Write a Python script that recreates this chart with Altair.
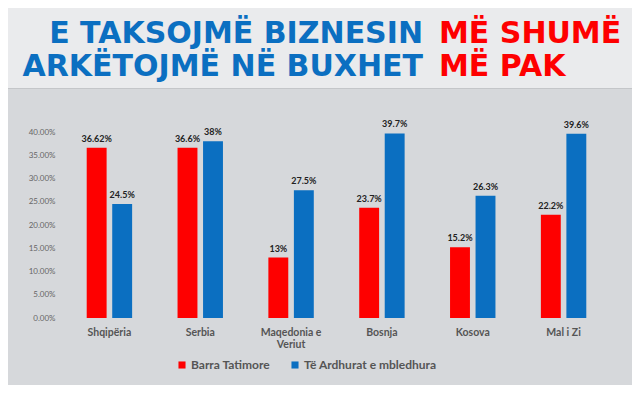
import altair as alt
import pandas as pd

countries = ["Shqipëria", "Serbia", "Maqedonia e Veriut", "Bosnja", "Kosova", "Mal i Zi"]
series = ["Barra Tatimore", "Të Ardhurat e mbledhura"]
barra = [36.62, 36.6, 13.0, 23.7, 15.2, 22.2]
ardhurat = [24.5, 38.0, 27.5, 39.7, 26.3, 39.6]
barra_labels = ["36.62%", "36.6%", "13%", "23.7%", "15.2%", "22.2%"]
ardhurat_labels = ["24.5%", "38%", "27.5%", "39.7%", "26.3%", "39.6%"]
y_ticks = [0, 0.05, 0.10, 0.15, 0.20, 0.25, 0.30, 0.35, 0.40]
title_blue = ["E TAKSOJMË BIZNESIN", "ARKËTOJMË NË BUXHET"]
title_red = ["MË SHUMË", "MË PAK"]

RED = "#fe0000"
BLUE = "#0b6fc1"

rows = []
for c, v, l in zip(countries, barra, barra_labels):
    rows.append({"country": c, "series": series[0], "value": v / 100, "label": l})
for c, v, l in zip(countries, ardhurat, ardhurat_labels):
    rows.append({"country": c, "series": series[1], "value": v / 100, "label": l})
df = pd.DataFrame(rows)

x_axis = alt.Axis(labelAngle=0, ticks=False, domain=False, labelPadding=9,
                  labelFont="Lato", labelFontWeight="bold", labelFontSize=10.5,
                  labelColor="#555555", labelLineHeight=12,
                  labelExpr="datum.label == 'Maqedonia e Veriut' ? ['Maqedonia e', 'Veriut'] : datum.label")
y_axis = alt.Axis(values=y_ticks, format=".2%", grid=False, ticks=False, domain=False,
                  labelOverlap=False, labelPadding=9, labelFont="Lato", labelFontSize=8,
                  labelColor="#666666")

x_enc = alt.X("country:N", sort=countries, title=None,
              scale=alt.Scale(paddingInner=0.5, paddingOuter=0.25), axis=x_axis)
xo_enc = alt.XOffset("series:N", sort=series, scale=alt.Scale(paddingInner=0.22, paddingOuter=0))
y_enc = alt.Y("value:Q", title=None,
              scale=alt.Scale(domain=[0, 0.4], nice=False), axis=y_axis)

base = alt.Chart(df)

bars = base.mark_bar().encode(
    x=x_enc, xOffset=xo_enc, y=y_enc,
    color=alt.Color("series:N", sort=series,
                    scale=alt.Scale(domain=series, range=[RED, BLUE]),
                    legend=alt.Legend(orient="none", legendX=112, legendY=227, direction="horizontal",
                                      title=None, symbolType="square", symbolSize=50,
                                      symbolStrokeWidth=0, labelFont="Lato", labelFontSize=12,
                                      labelFontWeight="bold", labelColor="#555555",
                                      columnPadding=18, labelOffset=3)),
)

labels = base.mark_text(font="Lato", fontWeight="bold", fontSize=9, color="#222222",
                        baseline="alphabetic", dy=-6).encode(
    x=x_enc, xOffset=xo_enc, y=y_enc, text="label:N",
)

one = alt.Chart(pd.DataFrame({"k": [0]}))

header = one.mark_rect(color="#eaebed").encode(
    x=alt.value(-70), x2=alt.value(600), y=alt.value(-140), y2=alt.value(-44))
sep = one.mark_rule(color="#c4c6c9", strokeWidth=1).encode(
    x=alt.value(-70), x2=alt.value(600), y=alt.value(-43.5))

t_blue = one.mark_text(font="DejaVu Sans", fontWeight="bold", fontSize=30, color=BLUE,
                       align="right", baseline="alphabetic", lineHeight=33).encode(
    x=alt.value(359), y=alt.value(-89), text=alt.value(title_blue))
t_red = one.mark_text(font="DejaVu Sans", fontWeight="bold", fontSize=30, color=RED,
                      align="left", baseline="alphabetic", lineHeight=33).encode(
    x=alt.value(375), y=alt.value(-89), text=alt.value(title_red))

chart = alt.layer(header, sep, t_blue, t_red, bars, labels).properties(
    width=545, height=186,
    autosize=alt.AutoSizeParams(type="none"),
    padding={"left": 56, "top": 124, "right": 23, "bottom": 67},
    background="#d6d8db",
).configure_view(stroke=None).configure_axis(labelOverlap=False)

chart.save("out.html", embed_options={"renderer": "svg", "actions": False})
